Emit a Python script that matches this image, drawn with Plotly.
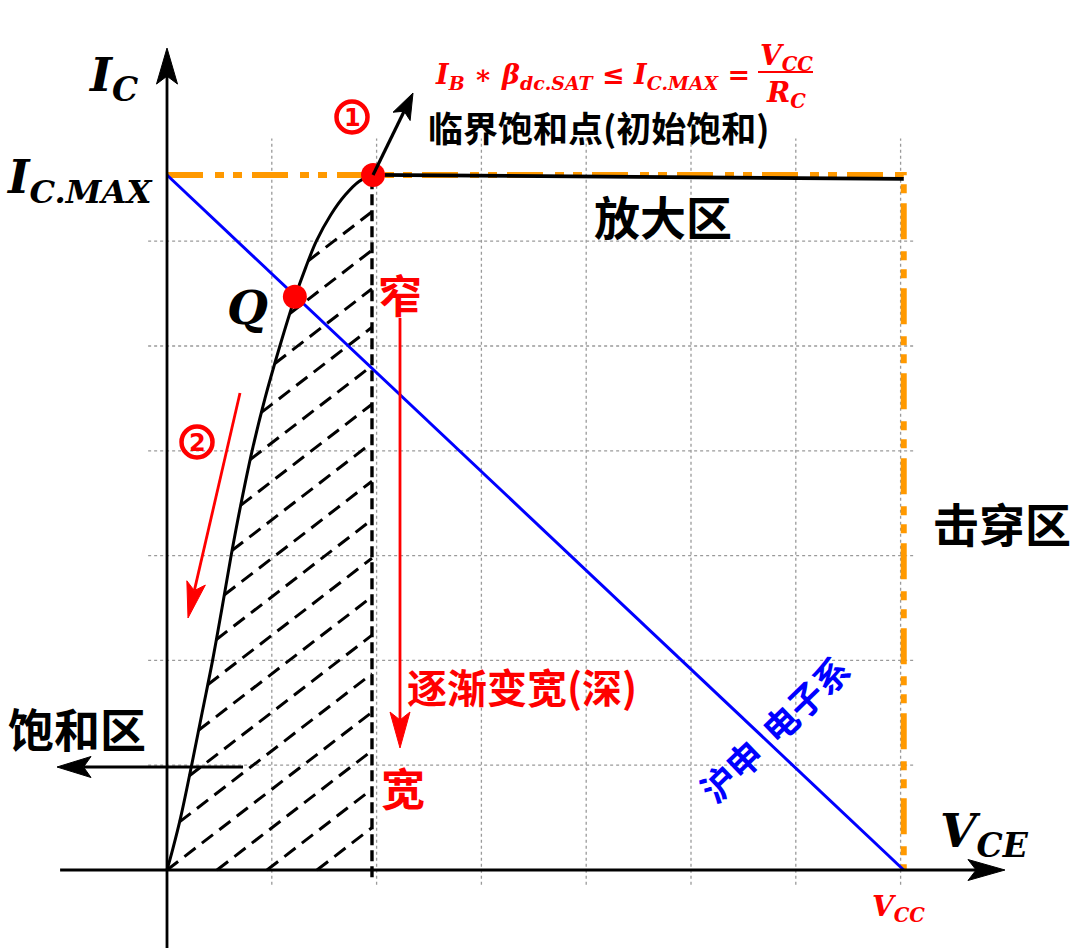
import math
import numpy as np
import plotly.graph_objects as go

# ---------------- data (grid units: 1 unit = one grid cell) ----------------
VCC = 7.03
IC_MAX = 6.632
VCE_SAT = 1.966
grid_x = [1, 2, 3, 4, 5, 6, 7]
grid_y = [1, 2, 3, 4, 5, 6]
curve_vce = [0.0, 0.055, 0.13, 0.235, 0.335, 0.435, 0.525, 0.612, 0.707, 0.812,
             0.935, 1.077, 1.223, 1.324, 1.425, 1.562, 1.70, 1.832, 1.966]
curve_ic = [0.0, 0.2, 0.5, 1.0, 1.5, 2.0, 2.5, 3.0, 3.5, 4.0,
            4.5, 5.0, 5.47, 5.75, 6.0, 6.25, 6.44, 6.57, 6.632]
active_vce = [VCE_SAT, VCC]
active_ic = [IC_MAX, 6.595]
load_vce = [0.0, VCC]
load_ic = [IC_MAX, 0.0]
q_point = [1.22, 5.47]
sat_point = [VCE_SAT, IC_MAX]
hatch_offsets = [1.431, 0.954, 0.477, 0.0, -0.477, -0.954, -1.431, -1.908, -2.385,
                 -2.862, -3.339, -3.816, -4.293, -4.770, -5.247, -5.724, -6.201]
HATCH_SLOPE = 0.77

# ---------------- geometry helpers ----------------
S = 104.8           # pixels per unit
OX, OY = 167, 870   # pixel position of origin


def P(px, py):
    """pixel -> data coords (for layout positions only)"""
    return (px - OX) / S, (OY - py) / S


fig = go.Figure()

# grid
gx, gy = [], []
for v in grid_x:
    gx += [v, v, None]
    gy += [-0.14, 6.98, None]
for v in grid_y:
    gx += [-0.18, 7.14, None]
    gy += [v, v, None]
fig.add_trace(go.Scatter(x=gx, y=gy, mode="lines", hoverinfo="skip",
                         line=dict(color="#9a9a9a", width=1.3, dash="3px,3px")))

# hatching between the curve and the saturation boundary
DASH_X = VCE_SAT - 0.01
ys = np.linspace(0, IC_MAX, 4000)
cx = np.interp(ys, curve_ic, curve_vce)
hx, hy = [], []
for c in hatch_offsets:
    if c >= 0:
        x0, y0 = c, 0.0
    else:
        diff = cx - (ys / HATCH_SLOPE + c)
        idx = np.where(np.diff(np.sign(diff)) != 0)[0][0]
        y0 = ys[idx]
        x0 = ys[idx] / HATCH_SLOPE + c
    x1 = DASH_X
    y1 = HATCH_SLOPE * (x1 - c)
    hx += [x0, x1, None]
    hy += [y0, y1, None]
fig.add_trace(go.Scatter(x=hx, y=hy, mode="lines", hoverinfo="skip",
                         line=dict(color="black", width=3, dash="14px,8px")))

# vertical dashed boundary
fig.add_trace(go.Scatter(x=[DASH_X, DASH_X], y=[-0.07, IC_MAX], mode="lines",
                         line=dict(color="black", width=3.4, dash="11px,5px")))

# orange I_C.MAX and V_CC lines
fig.add_trace(go.Scatter(x=[0, VCC, VCC], y=[IC_MAX, IC_MAX, 0], mode="lines",
                         line=dict(color="#FF9900", width=6,
                                   dash="36px,12px,9px,9px,9px,10px")))

# active-region line
fig.add_trace(go.Scatter(x=active_vce, y=active_ic, mode="lines",
                         line=dict(color="black", width=3.8)))

# load line
fig.add_trace(go.Scatter(x=load_vce, y=load_ic, mode="lines",
                         line=dict(color="#0000FF", width=3)))

# output characteristic curve
fig.add_trace(go.Scatter(x=curve_vce, y=curve_ic, mode="lines",
                         line=dict(color="black", width=3, shape="spline", smoothing=1.0)))

# axes lines
X_TAIL, X_TIP = -1.02, 7.996
Y_TAIL, Y_TIP = -0.80, 7.843
shapes = []


def arrow(tail, tip, color, width, L, W, notch=0.22):
    dx, dy = tip[0] - tail[0], tip[1] - tail[1]
    n = math.hypot(dx, dy)
    ux, uy = dx / n, dy / n
    nx, ny = -uy, ux
    Lu, Wu = L / S, W / S / 2
    bx, by = tip[0] - ux * Lu, tip[1] - uy * Lu
    mx, my = tip[0] - ux * Lu * (1 - notch), tip[1] - uy * Lu * (1 - notch)
    p1 = (bx + nx * Wu, by + ny * Wu)
    p3 = (bx - nx * Wu, by - ny * Wu)
    shapes.append(dict(type="line", xref="x", yref="y", x0=tail[0], y0=tail[1],
                       x1=mx, y1=my, line=dict(color=color, width=width)))
    path = f"M{tip[0]},{tip[1]} L{p1[0]},{p1[1]} L{mx},{my} L{p3[0]},{p3[1]} Z"
    shapes.append(dict(type="path", xref="x", yref="y", path=path,
                       fillcolor=color, line=dict(color=color, width=1)))


arrow((X_TAIL, 0), (X_TIP, 0), "black", 2.8, 37, 21)
arrow((0, Y_TAIL), (0, Y_TIP), "black", 2.8, 36, 21)
arrow(tuple(sat_point), P(413, 93), "black", 3.2, 26, 19)
arrow(P(240, 393), P(188, 618), "#FF0000", 2.8, 36, 19)
arrow(P(400, 318), P(400, 748), "#FF0000", 2.8, 36, 20)
arrow(P(243, 767), P(57, 767), "black", 3, 34, 21)

# fraction bar
fb0, fb1 = P(758, 72), P(813, 72)
shapes.append(dict(type="line", xref="x", yref="y", x0=fb0[0], y0=fb0[1],
                   x1=fb1[0], y1=fb1[1], line=dict(color="#FF0000", width=2)))

# points
fig.add_trace(go.Scatter(x=[sat_point[0], q_point[0]], y=[sat_point[1], q_point[1]],
                         mode="markers", marker=dict(color="#FF0000", size=24)))

# rings of the circled step numbers
r1, r2 = P(352, 117), P(197, 442)
fig.add_trace(go.Scatter(x=[r1[0], r2[0]], y=[r1[1], r2[1]], mode="markers",
                         hoverinfo="skip",
                         marker=dict(symbol="circle-open", size=31, color="#FF0000",
                                     line=dict(width=4.5, color="#FF0000"))))

# ---------------- text ----------------
MATH = "DejaVu Serif"
CJK = "Noto Sans CJK SC"
ann = []


def T(px, py, text, size, color="black", family=CJK, xa="center", ya="middle", angle=0):
    x, y = P(px, py)
    ann.append(dict(x=x, y=y, xref="x", yref="y", text=text, showarrow=False,
                    xanchor=xa, yanchor=ya, textangle=angle,
                    font=dict(size=size, color=color, family=family)))


T(86, 78, "<b><i>I<sub>C</sub></i></b>", 47, family=MATH, xa="left")
T(4, 180, "<b><i>I<sub>C.MAX</sub></i></b>", 46, family=MATH, xa="left")
T(247, 307, "<b><i>Q</i></b>", 47, family=MATH)
T(938, 834, "<b><i>V<sub>CE</sub></i></b>", 47, family=MATH, xa="left")
T(898, 908, "<b><i>V<sub>CC</sub></i></b>", 28, color="#FF0000", family=MATH)
T(433, 76, "<b><i>I<sub>B</sub> ∗ β<sub>dc.SAT</sub> ≤ I<sub>C.MAX</sub> =</i></b>", 27,
  color="#FF0000", family=MATH, xa="left")
T(786, 57, "<b><i>V<sub>CC</sub></i></b>", 28, color="#FF0000", family=MATH)
T(786, 94, "<b><i>R<sub>C</sub></i></b>", 28, color="#FF0000", family=MATH)

T(352, 118, "<b>1</b>", 24, color="#FF0000", family="DejaVu Sans")
T(197, 443, "<b>2</b>", 24, color="#FF0000", family="DejaVu Sans")
T(426, 126, "<b>临界饱和点(初始饱和)</b>", 35, xa="left")
T(663, 215, "<b>放大区</b>", 46)
T(1002, 522, "<b>击穿区</b>", 46)
T(77, 727, "<b>饱和区</b>", 46)
T(400, 294, "<b>窄</b>", 44, color="#FF0000")
T(403, 787, "<b>宽</b>", 44, color="#FF0000")
T(405, 686, "<b>逐渐变宽(深)</b>", 40, color="#FF0000", xa="left")
T(773, 728, "<b>沪申  电子系</b>", 35, color="#0000FF", angle=-44)

fig.update_layout(
    width=1080, height=948,
    margin=dict(l=0, r=0, t=0, b=0),
    paper_bgcolor="white", plot_bgcolor="white",
    showlegend=False,
    xaxis=dict(range=[-OX / S, (1080 - OX) / S], visible=False, fixedrange=True),
    yaxis=dict(range=[(OY - 948) / S, OY / S], visible=False, fixedrange=True),
    shapes=shapes,
    annotations=ann,
)

fig.write_html("out.html", config={"displayModeBar": False},
               post_script="document.body.style.margin='0';document.body.style.overflow='hidden';")
